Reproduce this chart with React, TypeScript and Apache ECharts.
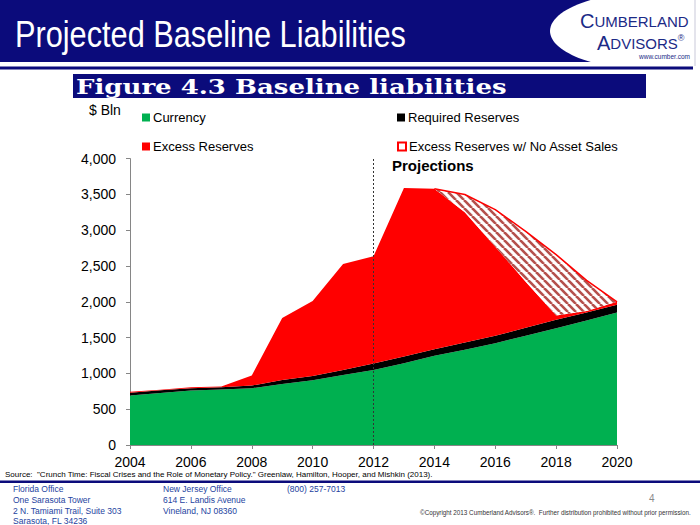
import React, { useEffect, useRef } from 'react';
import * as echarts from 'echarts';

const years = ['2004', '2005', '2006', '2007', '2008', '2009', '2010', '2011', '2012', '2013', '2014', '2015', '2016', '2017', '2018', '2019', '2020'];
const currency = [690, 725, 760, 774, 793, 853, 905, 979, 1049, 1143, 1245, 1329, 1422, 1525, 1632, 1739, 1851];
const requiredReserves = [40, 38, 33, 33, 37, 56, 60, 70, 90, 93, 94, 102, 103, 112, 117, 112, 108];
const excessReserves = [12, 10, 14, 9, 140, 863, 1045, 1479, 1496, 2354, 2241, 1819, 1245, 643, 60, 19, 41];
const noAssetSalesExcess: (number | null)[] = [null, null, null, null, null, null, null, null, null, null, 2241, 2067, 1763, 1347, 909, 448, 41];
const yMin = 0;
const yMax = 4000;
const yStep = 500;
const projectionStart = '2012';

const FONT = 'Liberation Sans, Arial, sans-serif';
const NAVY = '#0b0b7b';

function makeHatch(): HTMLCanvasElement {
  const c = document.createElement('canvas');
  c.width = 8;
  c.height = 8;
  const ctx = c.getContext('2d')!;
  ctx.fillStyle = '#ffffff';
  ctx.fillRect(0, 0, 8, 8);
  ctx.strokeStyle = '#b5504c';
  ctx.lineWidth = 2.6;
  for (const k of [-8, 0, 8]) {
    ctx.beginPath();
    ctx.moveTo(k, 0);
    ctx.lineTo(k + 8, 8);
    ctx.stroke();
  }
  return c;
}

export default function App() {
  const ref = useRef<HTMLDivElement>(null);
  useEffect(() => {
    if (!ref.current) return;
    const chart = echarts.init(ref.current, null, { renderer: 'svg' });
    const hatch = makeHatch();
    const extra = noAssetSalesExcess.map((v, i) => (v == null ? null : v - excessReserves[i]));

    const legendBase: any = {
      icon: 'rect',
      itemWidth: 8,
      itemHeight: 8,
      padding: 0,
      selectedMode: false,
      textStyle: { fontSize: 13, fontFamily: FONT, color: '#000', padding: [0, 0, 0, -2] },
    };

    const text = (t: string, x: number, y: number, extraStyle: any = {}) => ({
      type: 'text',
      z: 10,
      style: {
        text: t,
        x,
        y,
        fill: '#000',
        fontSize: 13,
        fontFamily: FONT,
        verticalAlign: 'middle',
        align: 'left',
        ...extraStyle,
      },
    });

    const footerBlue = '#2443a0';

    const option: any = {
      animation: false,
      backgroundColor: '#ffffff',
      grid: { left: 130, right: 83, top: 158.6, bottom: 80 },
      legend: [
        { ...legendBase, left: 142, top: 111, data: [{ name: 'Currency', itemStyle: { color: '#00B050' } }] },
        { ...legendBase, left: 397, top: 111, data: [{ name: 'Required Reserves', itemStyle: { color: '#000000' } }] },
        { ...legendBase, left: 142, top: 140, data: [{ name: 'Excess Reserves', itemStyle: { color: '#FF0000' } }] },
        {
          ...legendBase,
          left: 397,
          top: 140,
          data: [{ name: 'Excess Reserves w/ No Asset Sales', itemStyle: { color: '#ffffff', borderColor: '#FF0000', borderWidth: 2 } }],
        },
      ],
      xAxis: {
        type: 'category',
        data: years,
        boundaryGap: false,
        axisLine: { lineStyle: { color: '#868686' } },
        axisTick: { show: true, interval: 1, length: 4, lineStyle: { color: '#868686' } },
        axisLabel: { interval: 1, fontSize: 14, color: '#000', fontFamily: FONT, margin: 10 },
        splitLine: { show: false },
      },
      yAxis: {
        type: 'value',
        min: yMin,
        max: yMax,
        interval: yStep,
        axisLine: { show: true, lineStyle: { color: '#868686' } },
        axisTick: { show: true, length: 4, lineStyle: { color: '#868686' } },
        axisLabel: { fontSize: 14, color: '#000', fontFamily: FONT, margin: 14 },
        splitLine: { show: false },
      },
      series: [
        {
          name: 'Currency',
          type: 'line',
          stack: 'total',
          data: currency,
          symbol: 'none',
          lineStyle: { width: 0 },
          itemStyle: { color: '#00B050' },
          areaStyle: { color: '#00B050', opacity: 1 },
        },
        {
          name: 'Required Reserves',
          type: 'line',
          stack: 'total',
          data: requiredReserves,
          symbol: 'none',
          lineStyle: { width: 0 },
          itemStyle: { color: '#000000' },
          areaStyle: { color: '#000000', opacity: 1 },
        },
        {
          name: 'Excess Reserves',
          type: 'line',
          stack: 'total',
          data: excessReserves,
          symbol: 'none',
          lineStyle: { width: 0 },
          itemStyle: { color: '#FF0000' },
          areaStyle: { color: '#FF0000', opacity: 1 },
        },
        {
          name: 'Excess Reserves w/ No Asset Sales',
          type: 'line',
          stack: 'total',
          data: extra,
          symbol: 'none',
          lineStyle: { width: 1.5, color: '#FF0000' },
          itemStyle: { color: '#FF0000' },
          areaStyle: {
            color: { image: hatch, repeat: 'repeat', imageWidth: 8, imageHeight: 8 },
            opacity: 1,
          },
          markLine: {
            silent: true,
            symbol: ['none', 'none'],
            label: { show: false },
            lineStyle: { type: [2, 2], color: '#333', width: 1 },
            data: [{ xAxis: projectionStart }],
          },
        },
      ],
      graphic: [
        { type: 'rect', z: 5, shape: { x: 0, y: 0, width: 700, height: 62 }, style: { fill: NAVY } },
        { type: 'ellipse', z: 6, shape: { cx: 660, cy: 31, rx: 110, ry: 40 }, style: { fill: '#ffffff' } },
        { type: 'rect', z: 6, shape: { x: 0, y: 62, width: 700, height: 4 }, style: { fill: '#ffffff' } },
        { type: 'rect', z: 7, shape: { x: 0, y: 66.5, width: 693, height: 3 }, style: { fill: NAVY } },
        { type: 'rect', z: 7, shape: { x: 694, y: 0, width: 2, height: 66 }, style: { fill: '#e4e4ec' } },
        {
          type: 'text',
          z: 10,
          x: 15,
          y: 34,
          scaleX: 0.83,
          style: {
            text: 'Projected Baseline Liabilities',
            x: 0,
            y: 0,
            fill: '#ffffff',
            fontSize: 37,
            fontFamily: FONT,
            verticalAlign: 'middle',
            align: 'left',
          },
        },
        {
          type: 'text',
          z: 10,
          style: {
            text: '{b|C}{s|UMBERLAND}',
            x: 580,
            y: 21,
            verticalAlign: 'middle',
            rich: {
              b: { fontSize: 20, fill: '#1b2a86', fontFamily: FONT },
              s: { fontSize: 15, fill: '#1b2a86', fontFamily: FONT },
            },
          },
        },
        {
          type: 'text',
          z: 10,
          style: {
            text: '{b|A}{s|DVISORS}{r|®}',
            x: 597,
            y: 43,
            verticalAlign: 'middle',
            rich: {
              b: { fontSize: 20, fill: '#1b2a86', fontFamily: FONT },
              s: { fontSize: 15, fill: '#1b2a86', fontFamily: FONT },
              r: { fontSize: 9, fill: '#1b2a86', fontFamily: FONT, verticalAlign: 'top', padding: [0, 0, 8, 0] },
            },
          },
        },
        text('www.cumber.com', 690, 56, { fill: '#1b2a86', fontSize: 6.5, align: 'right' }),
        { type: 'rect', z: 7, shape: { x: 73, y: 74, width: 573, height: 24 }, style: { fill: NAVY } },
        {
          type: 'text',
          z: 10,
          x: 76,
          y: 87,
          scaleX: 1.3,
          style: {
            text: 'Figure 4.3 Baseline liabilities',
            x: 0,
            y: 0,
            fill: '#ffffff',
            fontSize: 20,
            fontWeight: 'bold',
            fontFamily: 'DejaVu Serif, serif',
            verticalAlign: 'middle',
            align: 'left',
          },
        },
        text('$ Bln', 89, 110, { fontSize: 14 }),
        text('Projections', 392, 165, { fontSize: 15, fontWeight: 'bold' }),
        text('Source:  "Crunch Time: Fiscal Crises and the Role of Monetary Policy." Greenlaw, Hamilton, Hooper, and Mishkin (2013).', 5, 474, {
          fontSize: 8,
        }),
        { type: 'rect', z: 7, shape: { x: 0, y: 480.5, width: 700, height: 2.5 }, style: { fill: NAVY } },
        text('Florida Office', 13, 489, { fontSize: 8.5, fill: footerBlue }),
        text('One Sarasota Tower', 13, 500, { fontSize: 8.5, fill: footerBlue }),
        text('2 N. Tamiami Trail, Suite 303', 13, 511, { fontSize: 8.5, fill: footerBlue }),
        text('Sarasota, FL 34236', 13, 521, { fontSize: 8.5, fill: footerBlue }),
        text('New Jersey Office', 163, 489, { fontSize: 8.5, fill: footerBlue }),
        text('614 E. Landis Avenue', 163, 500, { fontSize: 8.5, fill: footerBlue }),
        text('Vineland, NJ 08360', 163, 511, { fontSize: 8.5, fill: footerBlue }),
        text('(800) 257-7013', 287, 489, { fontSize: 8.5, fill: footerBlue }),
        text('4', 649, 498, { fontSize: 10, fill: '#8a8a8a' }),
        text('©Copyright 2013 Cumberland Advisors®.  Further distribution prohibited without prior permission.', 420, 512, {
          fontSize: 6.3,
          fill: '#333',
        }),
      ],
    };
    chart.setOption(option);
    return () => chart.dispose();
  }, []);
  return <div ref={ref} style={{ position: 'absolute', left: 0, top: 0, width: 700, height: 525 }} />;
}
